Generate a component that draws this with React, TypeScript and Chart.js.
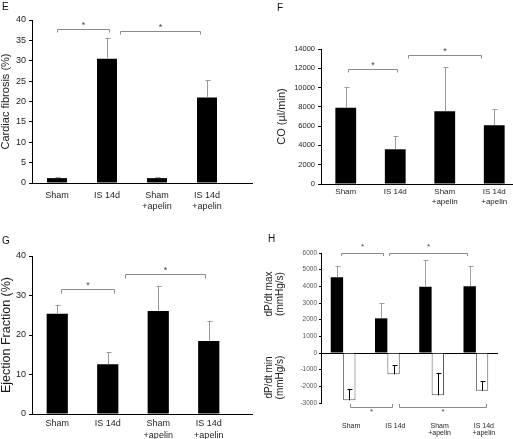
import React, { useEffect, useRef } from 'react';
import { Chart, registerables } from 'chart.js';

Chart.register(...registerables);
Chart.defaults.font.family = "'Liberation Sans', Arial, sans-serif";
Chart.defaults.color = '#222';

// ---------- data ----------
const categories: (string | string[])[] = ['Sham', 'IS 14d', ['Sham', '+apelin'], ['IS 14d', '+apelin']];

const fibrosisMean = [1.2, 30.5, 1.2, 21.0];
const fibrosisSD = [0.3, 5.1, 0.3, 4.3];
const fibrosisTicks = [0, 5, 10, 15, 20, 25, 30, 35, 40];
const fibrosisBrackets = [
  { from: 0, to: 1.03, y: 37.7 },
  { from: 1.26, to: 2.86, y: 37.3 },
];

const coMean = [7900, 3600, 7550, 6100];
const coSD = [2150, 1400, 4600, 1700];
const coTicks = [0, 2000, 4000, 6000, 8000, 10000, 12000, 14000];
const coBrackets = [
  { from: 0.05, to: 1.03, y: 11900 },
  { from: 1.26, to: 2.74, y: 13400 },
];

const efMean = [25.4, 12.6, 26.1, 18.5];
const efSD = [2.2, 3.2, 6.3, 5.1];
const efTicks = [0, 10, 20, 30, 40];
const efBrackets = [
  { from: 0.07, to: 1.12, y: 31.6 },
  { from: 1.34, to: 2.93, y: 35.4 },
];

const dpMaxMean = [4540, 2080, 3980, 4000];
const dpMaxSD = [680, 900, 1600, 1220];
const dpMinMean = [-2840, -1280, -2540, -2260];
const dpMinSD = [660, 560, 1360, 560];
const dpTicks = [-3000, -2000, -1000, 0, 1000, 2000, 3000, 4000, 5000, 6000];
const dpBracketsTop = [
  { from: -0.05, to: 0.91, y: 6020 },
  { from: 1.04, to: 2.81, y: 6020 },
];
const dpBracketsBottom = [
  { from: 0.16, to: 1.11, y: -3220 },
  { from: 1.26, to: 3.22, y: -3220 },
];

// ---------- annotation plugin ----------
const crisp = (v: number) => Math.round(v) + 0.5;

const annotPlugin = {
  id: 'annot',
  afterDatasetsDraw(chart: any, _args: any, opts: any) {
    const ctx = chart.ctx;
    const xs = chart.scales.x;
    const ys = chart.scales.y;
    const area = chart.chartArea;
    ctx.save();
    if (opts.ext) {
      ctx.strokeStyle = '#000';
      ctx.lineWidth = 1;
      ctx.beginPath();
      const yy = crisp(area.bottom - 0.5);
      ctx.moveTo(area.right, yy);
      ctx.lineTo(area.right + opts.ext, yy);
      ctx.stroke();
    }
    chart.data.datasets.forEach((ds: any, di: number) => {
      if (!ds.errors) return;
      const meta = chart.getDatasetMeta(di);
      ds.errors.forEach((e: number, i: number) => {
        const bar = meta.data[i];
        const v = ds.data[i];
        const x0 = crisp(bar.x);
        const y0 = ys.getPixelForValue(v);
        const y1 = Math.round(ys.getPixelForValue(v + e)) + 0.5;
        ctx.strokeStyle = ds.errColor;
        ctx.lineWidth = 1;
        ctx.beginPath();
        ctx.moveTo(x0, y0);
        ctx.lineTo(x0, y1);
        ctx.moveTo(x0 - 2, y1);
        ctx.lineTo(x0 + 3, y1);
        ctx.stroke();
      });
    });
    (opts.brackets || []).forEach((b: any) => {
      const xa = crisp(xs.getPixelForValue(b.from));
      const xb = crisp(xs.getPixelForValue(b.to));
      const yl = crisp(ys.getPixelForValue(b.y));
      ctx.strokeStyle = '#8a8a8a';
      ctx.lineWidth = 1;
      ctx.beginPath();
      ctx.moveTo(xa, yl + b.drop);
      ctx.lineTo(xa, yl);
      ctx.lineTo(xb, yl);
      ctx.lineTo(xb, yl + b.drop);
      ctx.stroke();
      ctx.fillStyle = '#444';
      ctx.font = `${b.starSize}px 'Liberation Sans', Arial, sans-serif`;
      ctx.textAlign = 'center';
      ctx.textBaseline = 'middle';
      ctx.fillText('*', (xa + xb) / 2, yl + b.star);
    });
    (opts.titles || []).forEach((t: any) => {
      ctx.save();
      ctx.fillStyle = '#222';
      ctx.font = `${t.size}px 'Liberation Sans', Arial, sans-serif`;
      ctx.textAlign = 'center';
      ctx.textBaseline = 'middle';
      ctx.translate(t.x, t.y);
      ctx.rotate(-Math.PI / 2);
      t.lines.forEach((ln: string, k: number) => {
        ctx.fillText(ln, 0, (k - (t.lines.length - 1) / 2) * t.lh);
      });
      ctx.restore();
    });
    ctx.restore();
  },
};

// ---------- panel ----------
function BarPanel({ spec }: { spec: any }) {
  const ref = useRef<HTMLCanvasElement>(null);
  useEffect(() => {
    const s = spec;
    const ticks: number[] = s.ticks;
    const chart = new Chart(ref.current as HTMLCanvasElement, {
      type: 'bar',
      data: { labels: categories as any, datasets: s.datasets },
      options: {
        responsive: false,
        animation: false,
        events: [],
        categoryPercentage: s.catPct,
        barPercentage: s.barPct,
        layout: { padding: { top: s.padTop, right: s.padRight, left: 0, bottom: 0 } },
        plugins: {
          legend: { display: false },
          tooltip: { enabled: false },
          annot: s.annot,
        } as any,
        scales: {
          x: {
            grid: { display: false, drawTicks: false },
            border: { display: s.xBorder, color: '#000', width: 1 },
            ticks: {
              font: { size: s.xFont, lineHeight: s.xLine },
              color: '#1e1e1e',
              padding: s.xPad,
              labelOffset: s.labelOffset || 0,
              maxRotation: 0,
              minRotation: 0,
              autoSkip: false,
            },
            afterFit: (sc: any) => {
              sc.height = s.xHeight;
            },
          },
          y: {
            min: ticks[0],
            max: ticks[ticks.length - 1],
            ticks: {
              stepSize: ticks[1] - ticks[0],
              font: { size: s.yFont },
              color: s.yColor,
              padding: s.yPad,
              callback: (v: any) => String(v),
            },
            grid: {
              display: true,
              drawOnChartArea: !!s.zeroLine,
              color: (c: any) => (s.zeroLine && c.tick && c.tick.value === 0 ? '#000' : 'rgba(0,0,0,0)'),
              drawTicks: true,
              tickLength: s.tickLen,
              tickColor: '#000',
            },
            border: { display: true, color: '#000', width: 1 },
            title: s.yTitle
              ? {
                  display: true,
                  text: s.yTitle,
                  font: { size: s.yTitleSize, lineHeight: 1 },
                  color: '#1a1a1a',
                  padding: { top: s.yTitlePad, bottom: 0 },
                }
              : { display: false },
            afterFit: (sc: any) => {
              sc.width = s.yWidth;
            },
          },
        },
      } as any,
      plugins: [annotPlugin as any],
    });
    return () => chart.destroy();
  }, []);
  return (
    <div style={{ position: 'absolute', left: spec.left, top: spec.top, width: spec.width, height: spec.height }}>
      <canvas
        ref={ref}
        width={spec.width}
        height={spec.height}
        style={{ width: spec.width, height: spec.height, display: 'block' }}
      />
    </div>
  );
}

const topBr = (list: any[], drop: number) => list.map((b) => ({ ...b, drop, star: -4, starSize: 9 }));

const panels = [
  {
    key: 'E',
    left: 0, top: 0, width: 257, height: 220,
    padTop: 20, padRight: 25, yWidth: 32, xHeight: 37,
    catPct: 1, barPct: 0.4,
    ticks: fibrosisTicks, yFont: 9, yColor: '#222', yPad: 3, tickLen: 3,
    xFont: 9, xLine: 1.2, xPad: 7, xBorder: true,
    yTitle: 'Cardiac fibrosis (%)', yTitleSize: 11, yTitlePad: 0,
    datasets: [{ data: fibrosisMean, backgroundColor: '#000', errors: fibrosisSD, errColor: '#9a9a9a' }],
    annot: { ext: 21, brackets: topBr(fibrosisBrackets, 3) },
  },
  {
    key: 'F',
    left: 255, top: 0, width: 265, height: 220,
    padTop: 49, padRight: 1, yWidth: 66, xHeight: 36,
    catPct: 1, barPct: 0.42,
    ticks: coTicks, yFont: 7.5, yColor: '#222', yPad: 3, tickLen: 3,
    xFont: 8, xLine: 1.25, xPad: 3, xBorder: true,
    yTitle: 'CO (µl/min)', yTitleSize: 11, yTitlePad: 21,
    datasets: [{ data: coMean, backgroundColor: '#000', errors: coSD, errColor: '#9a9a9a' }],
    annot: { ext: 0, brackets: topBr(coBrackets, 3) },
  },
  {
    key: 'G',
    left: 0, top: 220, width: 257, height: 219,
    padTop: 36, padRight: 23, yWidth: 32, xHeight: 25,
    catPct: 1, barPct: 0.42,
    ticks: efTicks, yFont: 9, yColor: '#222', yPad: 3, tickLen: 3,
    xFont: 9, xLine: 1.3, xPad: 4, xBorder: true,
    yTitle: 'Ejection Fraction (%)', yTitleSize: 12.5, yTitlePad: 0,
    datasets: [{ data: efMean, backgroundColor: '#000', errors: efSD, errColor: '#9a9a9a' }],
    annot: { ext: 19, brackets: topBr(efBrackets, 4) },
  },
  {
    key: 'H',
    left: 255, top: 220, width: 258, height: 219,
    padTop: 33, padRight: 15, yWidth: 66, xHeight: 36,
    catPct: 0.56, barPct: 1,
    ticks: dpTicks, yFont: 6.5, yColor: '#555', yPad: 2, tickLen: 2,
    xFont: 7, xLine: 1.05, xPad: 19, xBorder: false, labelOffset: 8, zeroLine: true,
    datasets: [
      { data: dpMaxMean, backgroundColor: '#000', errors: dpMaxSD, errColor: '#a0a0a0' },
      { data: dpMinMean, backgroundColor: '#fff', borderColor: '#555', borderWidth: 1, errors: dpMinSD, errColor: '#000' },
    ],
    annot: {
      ext: 0,
      brackets: [
        ...dpBracketsTop.map((b) => ({ ...b, drop: 2.5, star: -7, starSize: 8 })),
        ...dpBracketsBottom.map((b) => ({ ...b, drop: -3.5, star: 4, starSize: 8 })),
      ],
      titles: [
        { x: 19.5, y: 74, size: 10, lh: 11, lines: ['dP/dt max', '(mmHg/s)'] },
        { x: 19.5, y: 157.5, size: 10, lh: 11, lines: ['dP/dt min', '(mmHg/s)'] },
      ],
    },
  },
];

const letters = [
  { t: 'E', x: 2, y: 2 },
  { t: 'F', x: 277, y: 3 },
  { t: 'G', x: 2, y: 235.5 },
  { t: 'H', x: 268, y: 233.5 },
];

export default function App() {
  return (
    <div
      style={{
        position: 'fixed',
        left: 0,
        top: 0,
        width: 513,
        height: 439,
        overflow: 'hidden',
        background: '#fff',
        fontFamily: "'Liberation Sans', Arial, sans-serif",
      }}
    >
      {panels.map((p) => (
        <BarPanel key={p.key} spec={p} />
      ))}
      {letters.map((l) => (
        <div
          key={l.t}
          style={{ position: 'absolute', left: l.x, top: l.y, fontSize: 10, lineHeight: '10px', color: '#111' }}
        >
          {l.t}
        </div>
      ))}
    </div>
  );
}
